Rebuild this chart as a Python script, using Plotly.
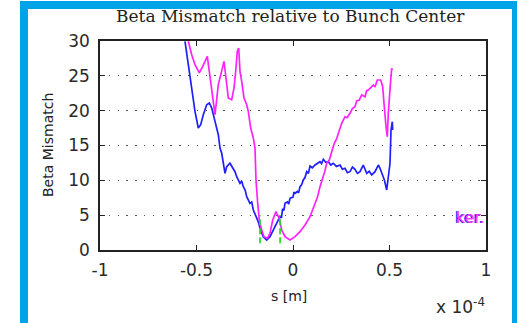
import plotly.graph_objects as go

# s positions in units of 1e-4 m, beta mismatch values
s_blue = [-0.5596, -0.5477, -0.5337, -0.5197, -0.5078, -0.4907, -0.4782, -0.4648,
          -0.4472, -0.4337, -0.4212, -0.4041, -0.3870, -0.3782, -0.3694, -0.3523,
          -0.3435, -0.3264, -0.3093, -0.3000, -0.2917, -0.2746, -0.2660, -0.2575,
          -0.2480, -0.2399, -0.2228, -0.2140, -0.2057, -0.1881, -0.1790, -0.1710,
          -0.1539, -0.1363, -0.1192, -0.1021, -0.0845, -0.0674, -0.0600, -0.0540,
          -0.0470, -0.0415, -0.0290, -0.0220, -0.0155, 0.0000, 0.0050, 0.0104,
          0.0230, 0.0290, 0.0363, 0.0450, 0.0534, 0.0620, 0.0710, 0.0800, 0.0881,
          0.1000, 0.1140, 0.1270, 0.1399, 0.1480, 0.1570, 0.1700, 0.1829, 0.1960,
          0.2088, 0.2250, 0.2435, 0.2560, 0.2694, 0.2820, 0.2953, 0.3080, 0.3212,
          0.3340, 0.3472, 0.3642, 0.3819, 0.3950, 0.4078, 0.4249, 0.4420, 0.4508,
          0.4600, 0.4730, 0.4855, 0.4938, 0.5026, 0.5078, 0.5145, 0.5166]
beta_blue = [29.96, 27.56, 25.16, 22.29, 19.91, 17.51, 17.99, 19.42,
             20.86, 21.10, 20.38, 18.47, 16.55, 14.64, 13.88, 11.01,
             11.96, 12.45, 11.73, 11.20, 10.52, 9.57, 9.90, 9.09,
             8.60, 7.65, 6.70, 6.90, 5.74, 4.55, 4.00, 3.11,
             1.91, 1.44, 1.91, 2.87, 3.83, 4.78, 4.60, 5.90,
             5.70, 6.70, 6.90, 6.60, 7.42, 7.60, 8.30, 8.14,
             8.40, 8.20, 9.09, 9.40, 10.05, 10.40, 11.24, 11.00, 12.06,
             11.80, 12.20, 12.50, 12.67, 12.40, 13.02, 12.60, 12.67, 12.20,
             12.45, 12.00, 12.20, 11.60, 11.73, 11.10, 11.24, 11.90, 11.58,
             11.00, 11.24, 12.20, 11.01, 11.30, 10.77, 11.24, 12.20, 11.73,
             11.00, 10.10, 8.61, 10.52, 12.45, 17.22, 18.42, 17.22]

s_magenta = [-0.5425, -0.5249, -0.5078, -0.4855, -0.4679, -0.4508, -0.4440, -0.4337,
             -0.4212, -0.4130, -0.4041, -0.3870, -0.3694, -0.3575, -0.3472, -0.3352,
             -0.3176, -0.3057, -0.2969, -0.2886, -0.2813, -0.2746, -0.2658, -0.2539,
             -0.2399, -0.2316, -0.2192, -0.2057, -0.1969, -0.1917, -0.1829, -0.1746,
             -0.1622, -0.1503, -0.1332, -0.1192, -0.1052, -0.0881, -0.0845, -0.0710,
             -0.0585, -0.0415, -0.0155, 0.0104, 0.0363, 0.0622, 0.0881, 0.1140,
             0.1270, 0.1399, 0.1570, 0.1650, 0.1746, 0.1881, 0.2005, 0.2140, 0.2250,
             0.2347, 0.2430, 0.2523, 0.2694, 0.2800, 0.2953, 0.3080, 0.3212, 0.3300,
             0.3435, 0.3560, 0.3731, 0.3820, 0.3902, 0.4030, 0.4161, 0.4250, 0.4368,
             0.4544, 0.4648, 0.4715, 0.4767, 0.4819, 0.4886, 0.4938, 0.5062, 0.5114,
             0.5145]
beta_magenta = [29.96, 28.03, 26.60, 25.41, 26.37, 27.56, 27.80, 25.65,
                22.78, 20.86, 19.42, 23.73, 25.65, 27.08, 24.69, 21.82,
                21.57, 23.25, 25.65, 28.52, 29.00, 25.65, 24.22, 21.82,
                20.86, 19.91, 17.51, 16.08, 14.64, 10.05, 6.70, 4.31,
                2.87, 1.91, 1.68, 2.40, 4.31, 5.50, 5.27, 4.55,
                2.87, 1.91, 1.44, 1.91, 2.63, 3.59, 4.78, 6.70,
                7.60, 9.09, 10.52, 11.30, 12.45, 12.92, 14.11, 15.32, 15.90,
                16.75, 17.40, 18.19, 19.13, 19.00, 19.62, 20.30, 20.57, 21.40,
                21.53, 22.25, 22.00, 22.90, 22.97, 23.40, 23.68, 23.40, 24.40,
                24.40, 23.44, 21.06, 19.13, 17.70, 16.26, 19.62, 24.40, 26.08,
                25.84]

# bunch slice markers (green dashed verticals)
s_marks = [-0.171, -0.067]
beta_mark_range = [0.96, 5.0]

x_ticks = [-1, -0.5, 0, 0.5, 1]
x_tick_text = ["-1", "-0.5", "0", "0.5", "1"]
y_ticks = [0, 5, 10, 15, 20, 25, 30]

W, H = 518, 323
L, R, T, B = 100, 32, 41, 73
plot_w = W - L - R
plot_h = H - T - B


def px(x):
    return (x - L) / plot_w


def py(y):
    return (H - B - y) / plot_h


fig = go.Figure()

fig.add_trace(go.Scatter(x=s_blue, y=beta_blue, mode="lines",
                         line=dict(color="#1f1fff", width=1.7), showlegend=False))
fig.add_trace(go.Scatter(x=s_magenta, y=beta_magenta, mode="lines",
                         line=dict(color="#ff22ff", width=1.7), showlegend=False))
for s in s_marks:
    fig.add_trace(go.Scatter(x=[s, s], y=beta_mark_range, mode="lines",
                             line=dict(color="#22dd22", width=1.7, dash="6px,3px"),
                             showlegend=False))

tick_font = dict(family="DejaVu Sans", size=17, color="#2a2a2a")

fig.update_xaxes(range=[-1, 1], tickvals=x_ticks, ticktext=x_tick_text,
                 showline=True, linecolor="#222", linewidth=1.5, mirror="allticks",
                 ticks="inside", ticklen=5, tickcolor="#222", tickwidth=1.2,
                 showgrid=False, zeroline=False, tickfont=tick_font,
                 ticklabelstandoff=4)
fig.update_yaxes(range=[0, 30], tickvals=y_ticks,
                 showline=True, linecolor="#222", linewidth=1.5, mirror="allticks",
                 ticks="inside", ticklen=5, tickcolor="#222", tickwidth=1.2,
                 showgrid=True, gridcolor="#555", gridwidth=1.3, griddash="1.3px,7.5px",
                 zeroline=False, tickfont=tick_font, ticklabelstandoff=5)

frame = "#00a2e8"
fig.update_layout(
    width=W, height=H,
    margin=dict(l=L, r=R, t=T, b=B),
    paper_bgcolor="white", plot_bgcolor="white",
    shapes=[
        dict(type="rect", xref="paper", yref="paper", x0=px(20), x1=px(28),
             y0=py(1), y1=py(340), fillcolor=frame, line_width=0, layer="below"),
        dict(type="rect", xref="paper", yref="paper", x0=px(20), x1=px(517),
             y0=py(1), y1=py(9), fillcolor=frame, line_width=0, layer="below"),
        dict(type="rect", xref="paper", yref="paper", x0=px(512), x1=px(517),
             y0=py(1), y1=py(340), fillcolor=frame, line_width=0, layer="below"),
    ],
    annotations=[
        dict(text="Beta Mismatch relative to Bunch Center", xref="paper", yref="paper",
             x=px(290), y=py(16), xanchor="center", yanchor="middle", showarrow=False,
             font=dict(family="DejaVu Serif", size=17, color="#222")),
        dict(text="Beta Mismatch", xref="paper", yref="paper", textangle=-90,
             x=px(48), y=py(145), xanchor="center", yanchor="middle", showarrow=False,
             font=dict(family="DejaVu Sans", size=14, color="#222")),
        dict(text="s [m]", xref="paper", yref="paper",
             x=px(289), y=py(296), xanchor="center", yanchor="middle", showarrow=False,
             font=dict(family="DejaVu Sans", size=14, color="#222")),
        dict(text="x 10<sup>-4</sup>", xref="paper", yref="paper",
             x=px(487), y=py(306), xanchor="right", yanchor="middle", showarrow=False,
             font=dict(family="DejaVu Sans", size=17, color="#2a2a2a")),
        dict(text="ker.", xref="paper", yref="paper",
             x=px(470), y=py(217), xanchor="center", yanchor="middle", showarrow=False,
             font=dict(family="DejaVu Sans", size=16, color="#ff33ff",
                       shadow="-1.5px 0px 0px #3333ff")),
    ],
)

fig.write_html("out.html")
